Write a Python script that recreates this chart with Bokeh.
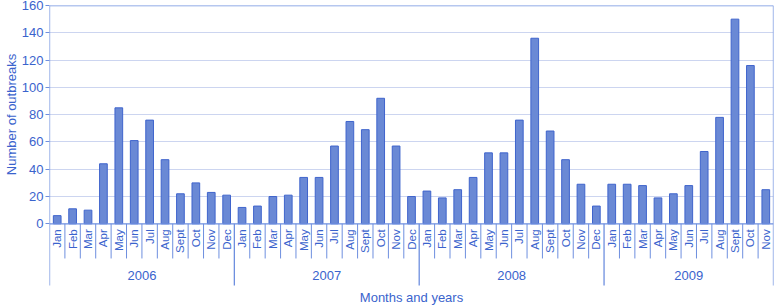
import math
from bokeh.plotting import figure
from bokeh.models import Range1d, FixedTicker, ColumnDataSource
from bokeh.core.properties import value
from bokeh.embed import file_html
from bokeh.resources import INLINE

# ---------------- data ----------------
years = ["2006", "2007", "2008", "2009"]
month_names = ["Jan", "Feb", "Mar", "Apr", "May", "Jun", "Jul", "Aug", "Sept", "Oct", "Nov", "Dec"]
outbreaks_2006 = [6, 11, 10, 44, 85, 61, 76, 47, 22, 30, 23, 21]
outbreaks_2007 = [12, 13, 20, 21, 34, 34, 57, 75, 69, 92, 57, 20]
outbreaks_2008 = [24, 19, 25, 34, 52, 52, 76, 136, 68, 47, 29, 13]
outbreaks_2009 = [29, 29, 28, 19, 22, 28, 53, 78, 150, 116, 25]
y_ticks = [0, 20, 40, 60, 80, 100, 120, 140, 160]
y_title = "Number of outbreaks"
x_title = "Months and years"

series = [outbreaks_2006, outbreaks_2007, outbreaks_2008, outbreaks_2009]

# ---------------- styles ----------------
BLUE_TXT = "#3a63cd"
AXIS = "#6e8fdf"
GRID = "#ccd5f0"
BAR_FILL = "#6a89d5"
BAR_LINE = "#3f64cc"
FONT = "Liberation Sans"

# flatten
xs, counts, mlabels = [], [], []
year_bounds = [-0.5]
year_centers = []
k = 0
for yr, vals in zip(years, series):
    start = k
    for j, v in enumerate(vals):
        xs.append(k)
        counts.append(v)
        mlabels.append(month_names[j])
        k += 1
    year_bounds.append(k - 0.5)
    year_centers.append((start + k - 1) / 2)
n = len(counts)

Y_MIN = -60.6
MONTH_SEP_Y = -25.4
YEAR_SEP_Y = -45.2
MONTH_LBL_Y = -4.0
YEAR_LBL_Y = -37.9
XTITLE_Y = -53.8

p = figure(width=775, height=306, output_backend="svg", toolbar_location=None,
           x_range=Range1d(-0.5, n - 0.5), y_range=Range1d(Y_MIN, y_ticks[-1]),
           x_axis_location=None, min_border_left=49, min_border_right=2,
           min_border_top=5, min_border_bottom=0)
p.outline_line_color = None
p.background_fill_color = "white"
p.border_fill_color = "white"

p.xgrid.visible = False
p.ygrid.ticker = FixedTicker(ticks=y_ticks[1:-1])
p.ygrid.grid_line_color = GRID
p.ygrid.grid_line_width = 1

yax = p.yaxis[0]
yax.ticker = FixedTicker(ticks=y_ticks)
yax.axis_line_color = None
yax.major_tick_line_color = AXIS
yax.major_tick_out = 4
yax.major_tick_in = 0
yax.minor_tick_line_color = None
yax.major_label_standoff = 2
yax.major_label_text_color = BLUE_TXT
yax.major_label_text_font = FONT
yax.major_label_text_font_size = "13px"
# the axis title is centred on the whole frame; leading no-break spaces lift it
# so that it sits centred on the 0-160 part, as in the reference
yax.axis_label = "\u00a0" * 23 + y_title
yax.axis_label_text_color = BLUE_TXT
yax.axis_label_text_font = FONT
yax.axis_label_text_font_size = "13px"
yax.axis_label_text_font_style = "normal"
yax.axis_label_standoff = 0

# bars
src = ColumnDataSource(dict(x=xs, top=counts, m=mlabels))
p.vbar(x="x", top="top", bottom=0, width=0.5, source=src,
       fill_color=BAR_FILL, line_color=BAR_LINE, line_width=1)

# baseline and top border
p.segment(x0=[-0.5, -0.5], x1=[n - 0.5, n - 0.5], y0=[0, y_ticks[-1]], y1=[0, y_ticks[-1]],
          line_color=AXIS, line_width=1.3)
# left and right borders, running down to the year level
edges = [year_bounds[0], year_bounds[-1]]
p.segment(x0=edges, x1=edges, y0=[y_ticks[-1]] * 2, y1=[YEAR_SEP_Y] * 2,
          line_color=AXIS, line_width=1.3)

# month separators
msep = [b + 0.5 for b in xs[:-1] if (b + 0.5) not in year_bounds]
p.segment(x0=msep, x1=msep, y0=[0] * len(msep), y1=[MONTH_SEP_Y] * len(msep),
          line_color=AXIS, line_width=1)
# inner year separators
inner = year_bounds[1:-1]
p.segment(x0=inner, x1=inner, y0=[0] * len(inner), y1=[YEAR_SEP_Y] * len(inner),
          line_color=AXIS, line_width=1.3)

# month labels
p.text(x="x", y=MONTH_LBL_Y, text="m", source=src, angle=math.pi / 2,
       text_align="right", text_baseline="middle", text_color=BLUE_TXT,
       text_font=value(FONT), text_font_size="11.5px")
# year labels
p.text(x=year_centers, y=[YEAR_LBL_Y] * len(years), text=years,
       text_align="center", text_baseline="middle", text_color=BLUE_TXT,
       text_font=value(FONT), text_font_size="13px")
# x title
p.text(x=[(n - 1) / 2], y=[XTITLE_Y], text=[x_title],
       text_align="center", text_baseline="middle", text_color=BLUE_TXT,
       text_font=value(FONT), text_font_size="13px")

open("out.html", "w").write(file_html(p, INLINE))
